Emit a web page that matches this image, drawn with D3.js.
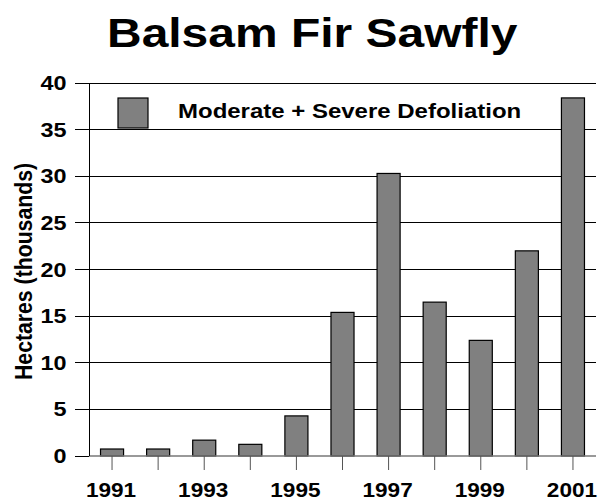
<!DOCTYPE html>
<html><head><meta charset="utf-8">
<script src="https://cdn.jsdelivr.net/npm/d3@7"></script>
<style>body{margin:0;background:#fff}svg{display:block;font-family:"Liberation Sans",Arial,sans-serif;font-weight:bold}</style>
</head><body><svg id="c" width="600" height="502"></svg>
<script>
const years = [1991,1992,1993,1994,1995,1996,1997,1998,1999,2000,2001];
const defoliation = [0.75,0.75,1.7,1.25,4.3,15.4,30.3,16.5,12.4,22.0,38.4];
const yTicks = [0,5,10,15,20,25,30,35,40];
const xLabels = [1991,1993,1995,1997,1999,2001];
const seriesName = "Moderate + Severe Defoliation";
const title = "Balsam Fir Sawfly";
const yTitle = "Hectares (thousands)";

const svg = d3.select("#c");
const m = {l:89, r:4, t:83, b:46};
const W = 600, H = 502;
const SX = 1.2; // horizontal stretch of the lettering
const x = d3.scaleBand().domain(years).range([m.l, W - m.r]).paddingInner(0.5).paddingOuter(0.25);
const y = d3.scaleLinear().domain([0,40]).range([H - m.b, m.t]);

// gridlines + y ticks
svg.append("g").selectAll("line").data(yTicks.filter(d=>d>0)).join("line")
  .attr("x1", 75).attr("x2", W - m.r)
  .attr("y1", d=>y(d)).attr("y2", d=>y(d))
  .attr("stroke","#000").attr("stroke-width",1).attr("shape-rendering","crispEdges");
svg.append("line").attr("x1",75).attr("x2",m.l).attr("y1",y(0)).attr("y2",y(0))
  .attr("stroke","#000").attr("shape-rendering","crispEdges");

// y tick labels
svg.append("g").selectAll("g").data(yTicks).join("g")
  .attr("transform", d=>`translate(66.5,${y(d)+7}) scale(${SX},1)`)
  .append("text").attr("text-anchor","end").attr("font-size",19.5).text(d=>d);

// bars
svg.append("g").selectAll("rect").data(years).join("rect")
  .attr("x", d=>x(d)).attr("width", x.bandwidth())
  .attr("y", (d,i)=>y(defoliation[i])).attr("height",(d,i)=>y(0)-y(defoliation[i]))
  .attr("fill","#808080").attr("stroke","#000").attr("stroke-width",1.2);

// x axis baseline
svg.append("line").attr("x1",m.l).attr("x2",W-m.r).attr("y1",y(0)).attr("y2",y(0))
  .attr("stroke","#777").attr("stroke-width",1.5);
// y axis line
svg.append("line").attr("x1",m.l).attr("x2",m.l).attr("y1",m.t).attr("y2",y(0))
  .attr("stroke","#000").attr("shape-rendering","crispEdges");

// x ticks
svg.append("g").selectAll("line").data(years).join("line")
  .attr("x1", d=>x(d)+x.bandwidth()/2).attr("x2", d=>x(d)+x.bandwidth()/2)
  .attr("y1", y(0)).attr("y2", y(0)+14)
  .attr("stroke","#555").attr("stroke-width",1);
svg.append("g").selectAll("g").data(xLabels).join("g")
  .attr("transform", d=>`translate(${x(d)+x.bandwidth()/2 - 1},497) scale(1.13,1)`)
  .append("text").attr("text-anchor","middle").attr("font-size",20).text(d=>d);

// legend
svg.append("rect").attr("x",118).attr("y",98).attr("width",30).attr("height",30)
  .attr("fill","#808080").attr("stroke","#000").attr("stroke-width",1.2);
svg.append("g").attr("transform","translate(178,117.5) scale(1.2,1)")
  .append("text").attr("font-size",19.5)
  .attr("textLength",286).attr("lengthAdjust","spacingAndGlyphs").text(seriesName);

// title
svg.append("g").attr("transform","translate(107,47) scale(1.2,1)")
  .append("text").attr("font-size",40.5)
  .attr("textLength",342).attr("lengthAdjust","spacingAndGlyphs").text(title);

// y title
svg.append("g").attr("transform","translate(31.5,271.5) scale(1.1,1) rotate(-90)")
  .append("text").attr("text-anchor","middle").attr("font-size",21.5)
  .attr("textLength",217).attr("lengthAdjust","spacingAndGlyphs").text(yTitle);
</script></body></html>
